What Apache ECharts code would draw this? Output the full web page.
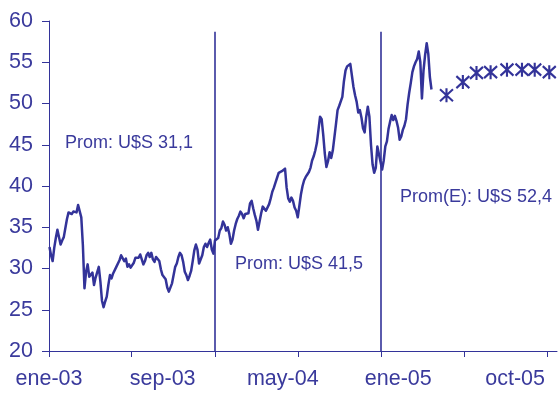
<!DOCTYPE html>
<html>
<head>
<meta charset="utf-8">
<script src="https://cdn.jsdelivr.net/npm/echarts@6/dist/echarts.min.js"></script>
<style>
  html, body { margin: 0; padding: 0; background: #fff; }
  #chart { width: 559px; height: 394px; }
</style>
</head>
<body>
<div id="chart"></div>
<script>
// Price (U$S) sampled twice a week, first sample on 2 Jan 2003
const sampleStart = [2003, 0, 2];
const sampleStepDays = 3.5;
const samplePrice = [
  32.6, 31.6, 30.9, 32.5, 33.7, 34.7, 34.6, 32.9, 33.4, 33.8,
  34.9, 36.0, 36.8, 37.0, 36.6, 36.9, 36.8, 36.8, 37.7, 37.9,
  36.2, 32.8, 27.6, 29.6, 30.5, 29.0, 28.8, 29.5, 28.0, 28.9,
  29.1, 30.2, 28.4, 26.1, 25.3, 26.0, 26.6, 28.0, 29.2, 28.8,
  29.4, 29.4, 30.2, 30.2, 31.0, 31.6, 31.8, 30.9, 31.2, 30.2,
  30.5, 30.1, 30.3, 30.7, 31.3, 31.3, 31.3, 31.7, 31.1, 30.5,
  30.9, 31.6, 31.9, 31.4, 31.9, 31.1, 30.8, 31.4, 31.4, 30.9,
  29.9, 29.2, 29.1, 28.7, 27.7, 27.2, 27.4, 28.2, 29.2, 30.2,
  30.6, 31.4, 31.9, 31.6, 30.8, 29.6, 29.2, 28.6, 29.1, 29.7,
  30.9, 32.2, 32.9, 32.3, 30.6, 30.6, 31.6, 32.6, 33.0, 32.6,
  33.1, 33.5, 32.3, 31.8, 33.4, 33.5, 33.7, 34.6, 34.9, 35.7,
  35.3, 34.6, 35.0, 34.2, 33.0, 33.5, 34.6, 35.4, 36.0, 36.4,
  36.9, 36.6, 36.1, 36.6, 36.8, 36.7, 37.9, 38.2, 37.3, 36.5,
  35.8, 34.7, 35.7, 36.7, 37.5, 37.5, 37.0, 37.2, 37.8, 38.5,
  39.3, 39.8, 40.4, 41.0, 41.6, 41.6, 41.8, 41.7, 42.1, 39.8,
  38.5, 38.1, 38.6, 38.2, 37.4, 37.0, 36.2, 37.6, 39.0, 40.0,
  40.7, 41.1, 41.4, 41.7, 42.2, 43.1, 43.6, 44.3, 45.2, 46.8,
  48.4, 48.1, 46.2, 43.9, 42.3, 43.0, 44.1, 43.4, 44.3, 45.9,
  47.5, 49.2, 49.7, 49.9, 50.8, 52.7, 54.0, 54.5, 54.6, 54.8,
  54.6, 52.0, 51.0, 50.2, 48.9, 49.2, 48.3, 47.0, 46.5, 48.4,
  49.6, 48.4, 45.0, 42.6, 41.6, 42.2, 44.8, 45.0, 42.9, 42.0,
  43.1, 44.8, 45.4, 46.9, 47.8, 48.6, 48.0, 48.5, 47.9, 47.1,
  45.6, 46.0, 46.8, 47.3, 48.1, 49.9, 51.3, 52.5, 53.8, 54.5,
  55.0, 55.4, 56.3, 55.0, 50.6, 54.0, 55.9, 57.3, 56.0, 53.2,
  51.7
];

// Estimated prices for the rest of 2005
const forecastDates = ['2005-05-24', '2005-06-29', '2005-07-29', '2005-08-29',
                       '2005-10-04', '2005-11-06', '2005-12-04', '2006-01-05'];
const forecastPrice = [51.0, 52.6, 53.7, 53.8, 54.1, 54.1, 54.1, 53.8];

// Period separators (start of 2004 and of 2005) and their height
const dividerDates = ['2004-01-01', '2004-12-31'];
const dividerTop = 58.7;

// Axis ticks and labels
const xTickDates = ['2003-01-01', '2003-07-01', '2004-01-01', '2004-07-01',
                    '2005-01-01', '2005-07-01', '2006-01-01'];
const xLabelDates = ['2003-01-01', '2003-09-08', '2004-05-29', '2005-02-07', '2005-10-22'];
const xLabelText = ['ene-03', 'sep-03', 'may-04', 'ene-05', 'oct-05'];
const xRange = ['2003-01-01', '2006-01-22'];
const yRange = [20, 60];
const yStep = 5;

// Average price notes
const notes = [
  { text: 'Prom: U$S 31,1', x: 65, y: 143 },
  { text: 'Prom: U$S 41,5', x: 235, y: 264 },
  { text: 'Prom(E): U$S 52,4', x: 400, y: 197 }
];

const INK = '#333399';
const TEXT = '#3a3a9c';
const DAY = 86400000;

function t(s) {
  const p = s.split('-').map(Number);
  return new Date(p[0], p[1] - 1, p[2]).getTime();
}

const t0 = new Date(sampleStart[0], sampleStart[1], sampleStart[2]).getTime();
const priceData = samplePrice.map((v, i) => [t0 + i * sampleStepDays * DAY, v]);
const forecastData = forecastDates.map((d, i) => [t(d), forecastPrice[i]]);
const labelByTime = {};
xLabelDates.forEach((d, i) => { labelByTime[t(d)] = xLabelText[i]; });

const chart = echarts.init(document.getElementById('chart'), null, { renderer: 'canvas' });

chart.setOption({
  animation: false,
  backgroundColor: '#ffffff',
  grid: { left: 49, right: 2, top: 21, bottom: 43, containLabel: false },
  xAxis: {
    // dates as millisecond timestamps on a linear scale
    type: 'value',
    min: t(xRange[0]),
    max: t(xRange[1]),
    axisLine: { show: true, lineStyle: { color: INK, width: 1 } },
    axisTick: {
      show: true, length: 6, inside: false,
      lineStyle: { color: INK, width: 1 },
      customValues: xTickDates.map(t)
    },
    axisLabel: {
      show: true,
      customValues: xLabelDates.map(t),
      formatter: (v) => labelByTime[v] || '',
      color: TEXT,
      fontFamily: 'Liberation Sans, Arial, sans-serif',
      fontSize: 21.5,
      margin: 17,
      hideOverlap: false
    },
    splitLine: { show: false }
  },
  yAxis: {
    type: 'value',
    min: yRange[0],
    max: yRange[1],
    interval: yStep,
    axisLine: { show: true, lineStyle: { color: INK, width: 1 } },
    axisTick: { show: true, length: 7, inside: false, lineStyle: { color: INK, width: 1 } },
    axisLabel: {
      color: TEXT,
      fontFamily: 'Liberation Sans, Arial, sans-serif',
      fontSize: 21.5,
      margin: 16
    },
    splitLine: { show: false }
  },
  series: [
    {
      name: 'Precio',
      type: 'line',
      data: priceData,
      showSymbol: false,
      symbol: 'none',
      lineStyle: { color: INK, width: 2.5, join: 'round' },
      z: 3,
      markLine: {
        silent: true,
        symbol: ['none', 'none'],
        label: { show: false },
        lineStyle: { color: INK, width: 1.6, type: 'solid' },
        data: dividerDates.map(d => [
          { coord: [t(d), yRange[0]] },
          { coord: [t(d), dividerTop] }
        ])
      }
    },
    {
      name: 'Estimado',
      type: 'line',
      data: forecastData,
      lineStyle: { width: 0, opacity: 0 },
      showSymbol: true,
      symbol: 'path://M0,0 L12,12 M12,0 L0,12 M6,-1 L6,13',
      symbolSize: [13, 14],
      itemStyle: { color: 'rgba(0,0,0,0)', borderColor: INK, borderWidth: 2.2 },
      z: 4
    }
  ],
  graphic: notes.map(n => ({
    type: 'text',
    x: n.x,
    y: n.y,
    style: {
      text: n.text,
      fill: TEXT,
      font: '18px "Liberation Sans", Arial, sans-serif',
      verticalAlign: 'middle',
      align: 'left'
    }
  }))
});
</script>
</body>
</html>
